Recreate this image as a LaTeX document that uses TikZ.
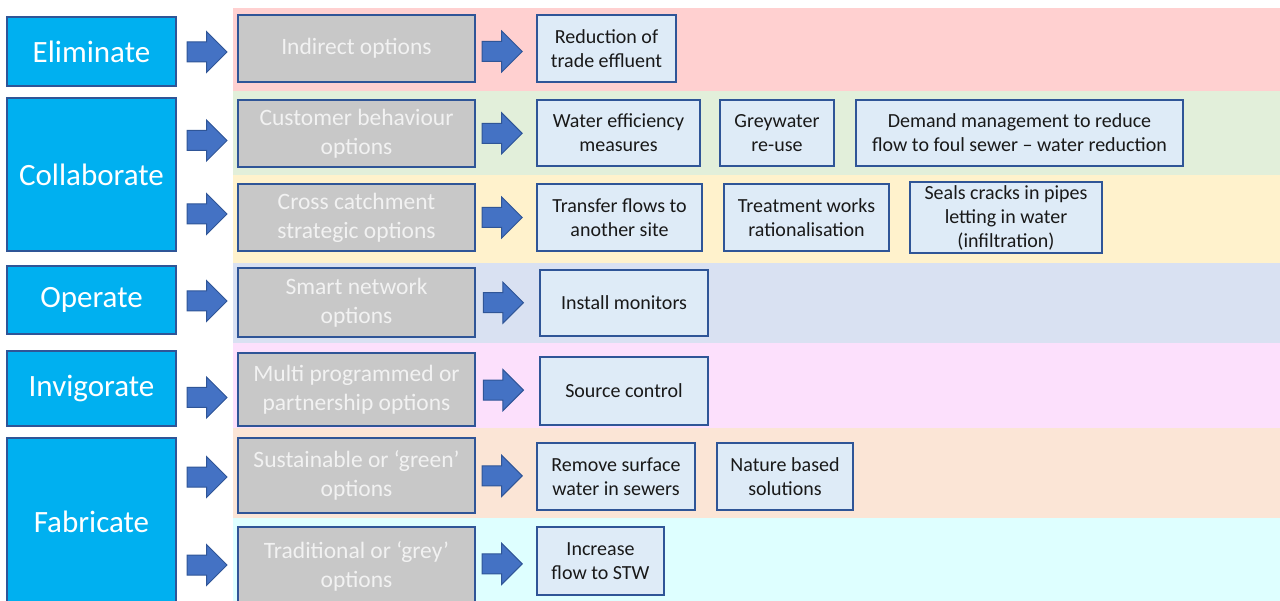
\documentclass[tikz,border=0pt]{standalone}
\usepackage{fontspec}
\setmainfont{Carlito}
\usetikzlibrary{shapes.arrows,calc}

\definecolor{catblue}{HTML}{00B0F0}
\definecolor{edgeblue}{HTML}{2F5597}
\definecolor{arrowblue}{HTML}{4472C4}
\definecolor{optgray}{HTML}{C8C8C8}
\definecolor{actblue}{HTML}{DEEBF7}
\definecolor{bandred}{HTML}{FFD0D0}
\definecolor{bandgreen}{HTML}{E2EFDA}
\definecolor{bandyellow}{HTML}{FFF2CC}
\definecolor{bandblue}{HTML}{D9E1F2}
\definecolor{bandpink}{HTML}{FCE0FC}
\definecolor{bandpeach}{HTML}{FBE5D6}
\definecolor{bandcyan}{HTML}{DEFFFF}

\begin{document}
\begin{tikzpicture}[x=1pt,y=-1pt,
  cat/.style={draw=edgeblue,line width=1.5pt,fill=catblue,text=white,minimum width=169pt,inner sep=0pt,font=\fontsize{31}{36}\selectfont},
  opt/.style={draw=edgeblue,line width=1.5pt,fill=optgray,text=white!95!black,minimum width=237pt,align=center,inner sep=0pt,font=\fontsize{23.5}{29}\selectfont},
  act/.style={draw=edgeblue,line width=1.2pt,fill=actblue,text=black!90,align=center,inner sep=0pt,font=\fontsize{20}{24}\selectfont},
  blockarr/.style={single arrow,draw=edgeblue,fill=arrowblue,line width=1pt,minimum height=40pt,minimum width=1pt,single arrow head extend=10.5pt,inner xsep=0pt,inner ysep=9.5pt}
]

\useasboundingbox (0,0) rectangle (1280,601);

% coloured bands
\fill[bandred]    (233,8)   rectangle (1280,91);
\fill[bandgreen]  (233,91)  rectangle (1280,175);
\fill[bandyellow] (233,175) rectangle (1280,263);
\fill[bandblue]   (233,263) rectangle (1280,343);
\fill[bandpink]   (233,343) rectangle (1280,428);
\fill[bandpeach]  (233,428) rectangle (1280,518);
\fill[bandcyan]   (233,518) rectangle (1280,601);

% categories
\node[cat,minimum height=69pt]  (elim)   at (91.5,51.5)  {Eliminate};
\node[cat,minimum height=153pt] (collab) at (91.5,174.5) {Collaborate};
\node[cat,minimum height=68pt]  (oper)   at (91.5,300)   {Operate};
\node[cat,minimum height=75pt]  (invig)  at (91.5,388.5) {Invigorate};
\node[cat,minimum height=167pt] (fabr)   at (91.5,521.5) {Fabricate};

% option groups
\node[opt,minimum height=67pt] (indir) at (356.5,48.5)  {Indirect options};
\node[opt,minimum height=67pt] (cust)  at (356.5,133.5) {Customer behaviour\\options};
\node[opt,minimum height=67pt] (cross) at (356.5,217.5) {Cross catchment\\strategic options};
\node[opt,minimum height=69pt] (smart) at (356.5,302.5) {Smart network\\options};
\node[opt,minimum height=73pt] (multi) at (356.5,389.5) {Multi programmed or\\partnership options};
\node[opt,minimum height=75pt] (sust)  at (356.5,475.5) {Sustainable or `green'\\options};
\node[opt,minimum height=78pt] (trad)  at (356.5,566)   {Traditional or `grey'\\options};

% actions
\node[act,minimum width=139pt,minimum height=67pt] (reduc)  at (606.5,48.5) {Reduction of\\trade effluent};
\node[act,minimum width=163pt,minimum height=66pt] (wateff) at (618.5,133)  {Water efficiency\\measures};
\node[act,minimum width=114pt,minimum height=66pt] (grey)   at (777,133)    {Greywater\\re-use};
\node[act,minimum width=327pt,minimum height=66pt] (demand) at (1019.5,133) {Demand management to reduce\\flow to foul sewer -- water reduction};
\node[act,minimum width=165pt,minimum height=67pt] (transf) at (619.5,217.5) {Transfer flows to\\another site};
\node[act,minimum width=165pt,minimum height=67pt] (treat)  at (806.5,217.5) {Treatment works\\rationalisation};
\node[act,minimum width=192pt,minimum height=71pt] (seals)  at (1006,217.5)  {Seals cracks in pipes\\letting in water\\(infiltration)};
\node[act,minimum width=168pt,minimum height=66pt] (monit)  at (624,303)    {Install monitors};
\node[act,minimum width=168pt,minimum height=68pt] (source) at (624,391)    {Source control};
\node[act,minimum width=158pt,minimum height=67pt] (remove) at (616,476.5)  {Remove surface\\water in sewers};
\node[act,minimum width=136pt,minimum height=67pt] (nature) at (785,476.5)  {Nature based\\solutions};
\node[act,minimum width=127pt,minimum height=68pt] (incr)   at (600.5,561)  {Increase\\flow to STW};

% block arrows, category to option
\node[blockarr,xshift=-5pt,yshift=-2pt]   (a1) at ($(elim.east)!.5!(indir.west)$) {};
\node[blockarr,xshift=-5pt,yshift=-7pt]   (a2) at ($(collab.east |- cust.west)!.5!(cust.west)$) {};
\node[blockarr,xshift=-5pt,yshift=3.5pt]  (a3) at ($(collab.east |- cross.west)!.5!(cross.west)$) {};
\node[blockarr,xshift=-5pt,yshift=1.5pt]  (a4) at ($(oper.east |- smart.west)!.5!(smart.west)$) {};
\node[blockarr,xshift=-5pt,yshift=-8pt]   (a5) at ($(invig.east |- multi.west)!.5!(multi.west)$) {};
\node[blockarr,xshift=-5pt,yshift=-1.5pt] (a6) at ($(fabr.east |- sust.west)!.5!(sust.west)$) {};
\node[blockarr,xshift=-5pt,yshift=1pt]    (a7) at ($(fabr.east |- trad.west)!.5!(trad.west)$) {};

% block arrows, option to action
\node[blockarr,xshift=-4pt,yshift=-3pt] (b1) at ($(indir.east)!.42!(reduc.west)$) {};
\node[blockarr,xshift=-4pt] (b2) at ($(cust.east)!.42!(wateff.west)$) {};
\node[blockarr,xshift=-4pt] (b3) at ($(cross.east)!.42!(transf.west)$) {};
\node[blockarr,xshift=-4pt] (b4) at ($(smart.east)!.42!(monit.west)$) {};
\node[blockarr,xshift=-4pt] (b5) at ($(multi.east)!.42!(source.west)$) {};
\node[blockarr,xshift=-4pt] (b6) at ($(sust.east)!.42!(remove.west)$) {};
\node[blockarr,xshift=-4pt] (b7) at ($(trad.east)!.42!(incr.west)$) {};

\end{tikzpicture}
\end{document}
